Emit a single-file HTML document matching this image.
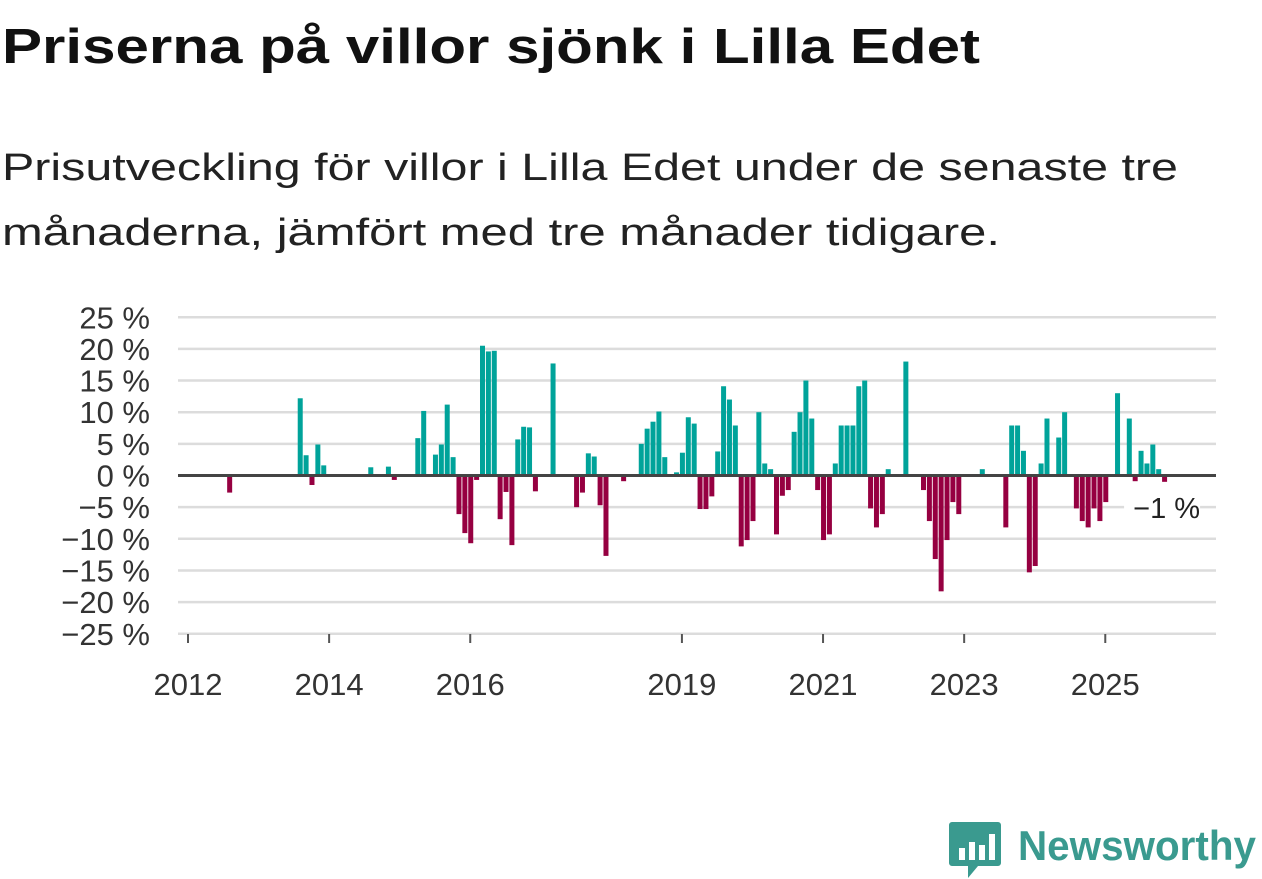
<!DOCTYPE html>
<html><head><meta charset="utf-8"><style>
html,body{margin:0;padding:0;background:#fff;}
svg{display:block;font-family:"Liberation Sans",sans-serif;}
</style></head><body>
<svg id="chart" width="1262" height="879" viewBox="0 0 1262 879">
<text x="2" y="63" font-size="49" font-weight="bold" fill="#111" textLength="978" lengthAdjust="spacingAndGlyphs">Priserna på villor sjönk i Lilla Edet</text>
<text x="2" y="180" font-size="38" fill="#222" textLength="1176" lengthAdjust="spacingAndGlyphs">Prisutveckling för villor i Lilla Edet under de senaste tre</text>
<text x="2" y="245" font-size="38" fill="#222" textLength="998" lengthAdjust="spacingAndGlyphs">månaderna, jämfört med tre månader tidigare.</text>
<g id="grid"></g><g id="bars"></g><g id="axes"></g>
<g>
<path d="M952 822 h46 a3 3 0 0 1 3 3 v38 a3 3 0 0 1 -3 3 h-20 l-10 12 v-12 h-16 a3 3 0 0 1 -3 -3 v-38 a3 3 0 0 1 3 -3z" fill="#3a9a8f"/>
<rect x="959" y="848" width="6" height="12" fill="#fff"/><rect x="969" y="842" width="6" height="18" fill="#fff"/><rect x="979" y="845" width="6" height="15" fill="#fff"/><rect x="989" y="834" width="6" height="26" fill="#fff"/>
<text x="1018" y="860" font-size="42" font-weight="bold" fill="#3a9a8f" textLength="238" lengthAdjust="spacingAndGlyphs">Newsworthy</text>
</g>
</svg>
<script>
const startYear = 2012;
const monthIndex = [7,19,20,21,22,23,31,34,35,39,40,42,43,44,45,46,47,48,49,50,51,52,53,54,55,56,57,58,59,62,66,67,68,69,70,71,74,77,78,79,80,81,83,84,85,86,87,88,89,90,91,92,93,94,95,96,97,98,99,100,101,102,103,104,105,106,107,108,109,110,111,112,113,114,115,116,117,118,119,122,125,126,127,128,129,130,131,135,139,140,141,142,143,144,145,146,148,149,151,152,153,154,155,156,158,160,161,162,163,164,165,166];
const values = [-2.7,12.2,3.2,-1.5,4.9,1.6,1.3,1.4,-0.7,5.9,10.2,3.3,4.9,11.2,2.9,-6.1,-9.1,-10.7,-0.7,20.5,19.6,19.7,-6.9,-2.6,-11.0,5.7,7.7,7.6,-2.5,17.7,-5.0,-2.7,3.5,3.0,-4.7,-12.7,-0.9,5.0,7.4,8.5,10.1,2.9,0.5,3.6,9.2,8.2,-5.3,-5.3,-3.3,3.8,14.1,12.0,7.9,-11.2,-10.2,-7.2,10.0,1.9,1.0,-9.3,-3.2,-2.3,6.9,10.0,15.0,9.0,-2.3,-10.2,-9.3,1.9,7.9,7.9,7.9,14.1,15.0,-5.2,-8.2,-6.1,1.0,18.0,-2.3,-7.2,-13.2,-18.3,-10.2,-4.2,-6.1,1.0,-8.2,7.9,7.9,3.9,-15.3,-14.3,1.9,9.0,6.0,10.0,-5.2,-7.2,-8.2,-5.2,-7.2,-4.2,13.0,9.0,-0.9,3.9,1.9,4.9,1.0,-1.0];
const yTicks = [25,20,15,10,5,0,-5,-10,-15,-20,-25];
const xTickYears = [2012,2014,2016,2019,2021,2023,2025];
const lastLabel = "\u22121 %";

const NS='http://www.w3.org/2000/svg';
const x = m => 188 + m*5.88;
const y = v => 475.5 - v*6.33;
function mk(tag, attrs, parent){const e=document.createElementNS(NS,tag);for(const k in attrs)e.setAttribute(k,attrs[k]);parent.appendChild(e);return e;}
const grid=document.getElementById('grid'), bars=document.getElementById('bars'), axes=document.getElementById('axes');
yTicks.forEach(t=>{
  if(t!==0){const l=mk('line',{x1:178,x2:1216,y1:y(t),y2:y(t),stroke:'#dcdcdc','stroke-width':2.5},grid);
  
  }
  const tx=mk('text',{x:150,y:y(t)+11,'font-size':31,fill:'#333','text-anchor':'end'},axes);
  tx.textContent=(t<0?'\u2212'+(-t):t)+' %';
  
  
});
monthIndex.forEach((m,i)=>{
  const v=values[i];
  const r=mk('rect',{x:x(m)-2,width:5,y:v>=0?y(v):y(0),height:Math.abs(y(v)-y(0)),fill:v>=0?'#00a39a':'#960041'},bars);
  
  
});
const zl=mk('line',{x1:178,x2:1216,y1:y(0),y2:y(0),stroke:'#444','stroke-width':3},axes);


xTickYears.forEach(yr=>{
  const xx=x((yr-startYear)*12);
  const tk=mk('line',{x1:xx,x2:xx,y1:634,y2:643,stroke:'#555','stroke-width':2},axes);
  
  
  const tx=mk('text',{x:xx,y:695,'font-size':31,fill:'#333','text-anchor':'middle'},axes);
  tx.textContent=yr;
  
  
});
const lm=monthIndex[monthIndex.length-1], lv=values[values.length-1];
const bg=mk('rect',{x:x(lm)-40,y:y(-5)-18,width:76,height:34,fill:'#fff'},axes);


const ll=mk('text',{x:x(lm)+36,y:y(-5)+11,'font-size':29,fill:'#222','text-anchor':'end'},axes);
ll.textContent=lastLabel;


</script>
</body></html>
